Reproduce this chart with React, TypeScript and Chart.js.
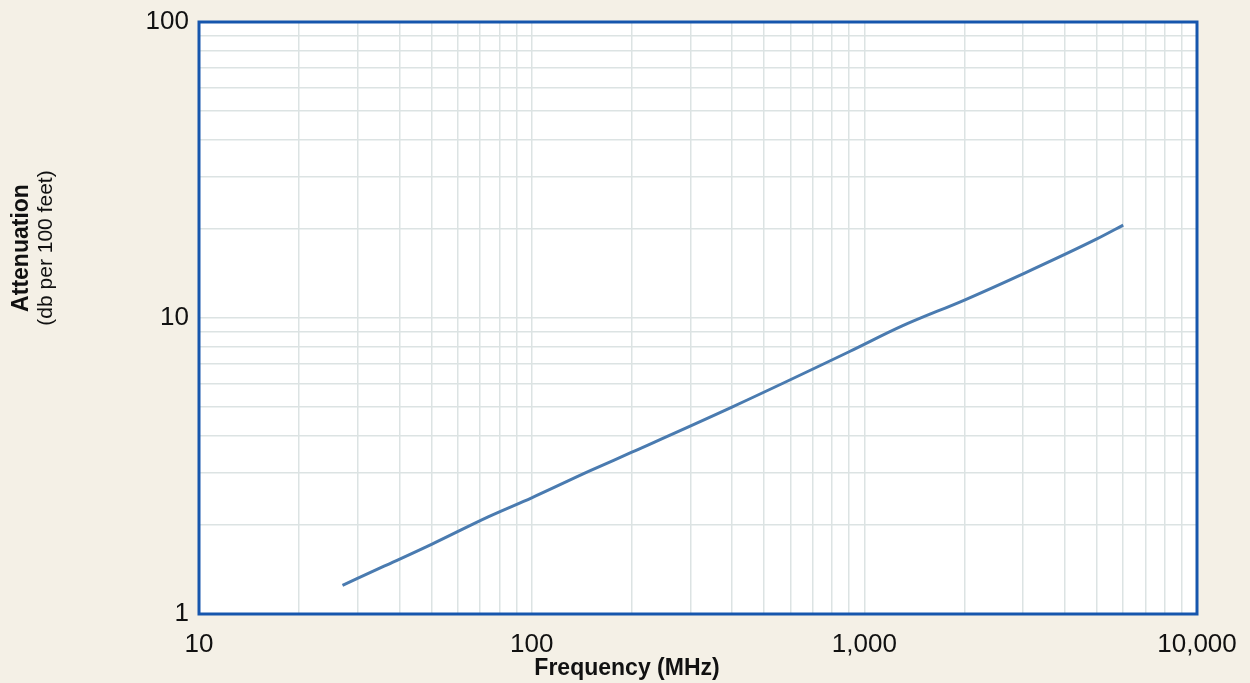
import { useEffect, useRef } from "react";
import { Chart, registerables } from "chart.js";

Chart.register(...registerables);

// Frequency (MHz) and attenuation (dB per 100 feet)
const frequencies = [27, 36, 50, 74, 100, 150, 200, 400, 900, 1300, 2000, 3000, 5000, 6000];
const attenuation = [1.25, 1.45, 1.72, 2.13, 2.47, 3.05, 3.52, 5.0, 7.69, 9.4, 11.5, 14.1, 18.5, 20.6];

// Grid line values
const xGridValues = [
  10, 20, 30, 40, 50, 60, 70, 80, 90,
  100, 200, 300, 400, 500, 600, 700, 800, 900,
  1000, 2000, 3000, 4000, 5000, 6000, 7000, 8000, 9000,
  10000,
];
const yGridValues = [1, 2, 3, 4, 5, 6, 7, 8, 9, 10, 20, 30, 40, 50, 60, 70, 80, 90, 100];

// Tick labels
const xLabelValues = [10, 100, 1000, 10000];
const xLabelTexts = ["10", "100", "1,000", "10,000"];
const yLabelValues = [1, 10, 100];
const yLabelTexts = ["1", "10", "100"];

const FONT = '"Liberation Sans", Arial, Helvetica, sans-serif';

export default function App() {
  const canvasRef = useRef<HTMLCanvasElement | null>(null);

  useEffect(() => {
    document.body.style.margin = "0";
    const canvas = canvasRef.current;
    if (!canvas) return;

    const framePlugin = {
      id: "frame",
      beforeDraw(chart: any) {
        const { ctx, chartArea } = chart;
        ctx.save();
        ctx.fillStyle = "#ffffff";
        ctx.fillRect(chartArea.left, chartArea.top, chartArea.right - chartArea.left, chartArea.bottom - chartArea.top);
        ctx.restore();
      },
      afterDraw(chart: any) {
        const { ctx, chartArea } = chart;
        ctx.save();
        ctx.strokeStyle = "#1656ad";
        ctx.lineWidth = 3;
        ctx.strokeRect(chartArea.left, chartArea.top, chartArea.right - chartArea.left, chartArea.bottom - chartArea.top);

        ctx.fillStyle = "#111111";
        ctx.textAlign = "center";
        ctx.textBaseline = "middle";
        ctx.font = `bold 23px ${FONT}`;
        ctx.fillText("Frequency (MHz)", 627, 669);

        ctx.translate(22, 248);
        ctx.rotate(-Math.PI / 2);
        ctx.font = `bold 23px ${FONT}`;
        ctx.fillText("Attenuation", 0, 0);
        ctx.font = `21px ${FONT}`;
        ctx.fillText("(db per 100 feet)", 0, 24);
        ctx.restore();
      },
    };

    const chart = new Chart(canvas, {
      type: "line",
      data: {
        datasets: [
          {
            data: frequencies.map((f, i) => ({ x: f, y: attenuation[i] })),
            borderColor: "#4a7bb0",
            borderWidth: 3,
            pointRadius: 0,
            tension: 0.3,
            cubicInterpolationMode: "monotone",
            fill: false,
          },
        ],
      },
      options: {
        animation: false,
        responsive: false,
        layout: { padding: { top: 22, right: 53, bottom: 0, left: 0 } },
        plugins: {
          legend: { display: false },
          tooltip: { enabled: false },
        },
        scales: {
          x: {
            type: "logarithmic",
            min: 10,
            max: 10000,
            afterBuildTicks: (s: any) => {
              s.ticks = xGridValues.map((v) => ({ value: v }));
            },
            afterFit: (s: any) => {
              s.height = 69;
              s.paddingLeft = 0;
              s.paddingRight = 0;
            },
            ticks: {
              autoSkip: false,
              maxRotation: 0,
              minRotation: 0,
              padding: 15,
              color: "#111111",
              font: { family: FONT, size: 26 },
              callback: (v: any) => {
                const i = xLabelValues.indexOf(Number(v));
                return i >= 0 ? xLabelTexts[i] : "";
              },
            },
            grid: { color: "#dce3e3", lineWidth: 1.5, drawTicks: false },
            border: { display: false },
          },
          y: {
            type: "logarithmic",
            min: 1,
            max: 100,
            afterBuildTicks: (s: any) => {
              s.ticks = yGridValues.map((v) => ({ value: v }));
            },
            afterFit: (s: any) => {
              s.width = 199;
              s.paddingTop = 0;
              s.paddingBottom = 0;
            },
            ticks: {
              autoSkip: false,
              padding: 10,
              color: "#111111",
              font: { family: FONT, size: 26 },
              callback: (v: any) => {
                const i = yLabelValues.indexOf(Number(v));
                return i >= 0 ? yLabelTexts[i] : "";
              },
            },
            grid: { color: "#dce3e3", lineWidth: 1.5, drawTicks: false },
            border: { display: false },
          },
        },
      },
      plugins: [framePlugin],
    });

    return () => chart.destroy();
  }, []);

  return (
    <div style={{ width: 1250, height: 683, background: "#f4f0e6", position: "relative" }}>
      <canvas ref={canvasRef} width={1250} height={683} style={{ display: "block" }} />
    </div>
  );
}
